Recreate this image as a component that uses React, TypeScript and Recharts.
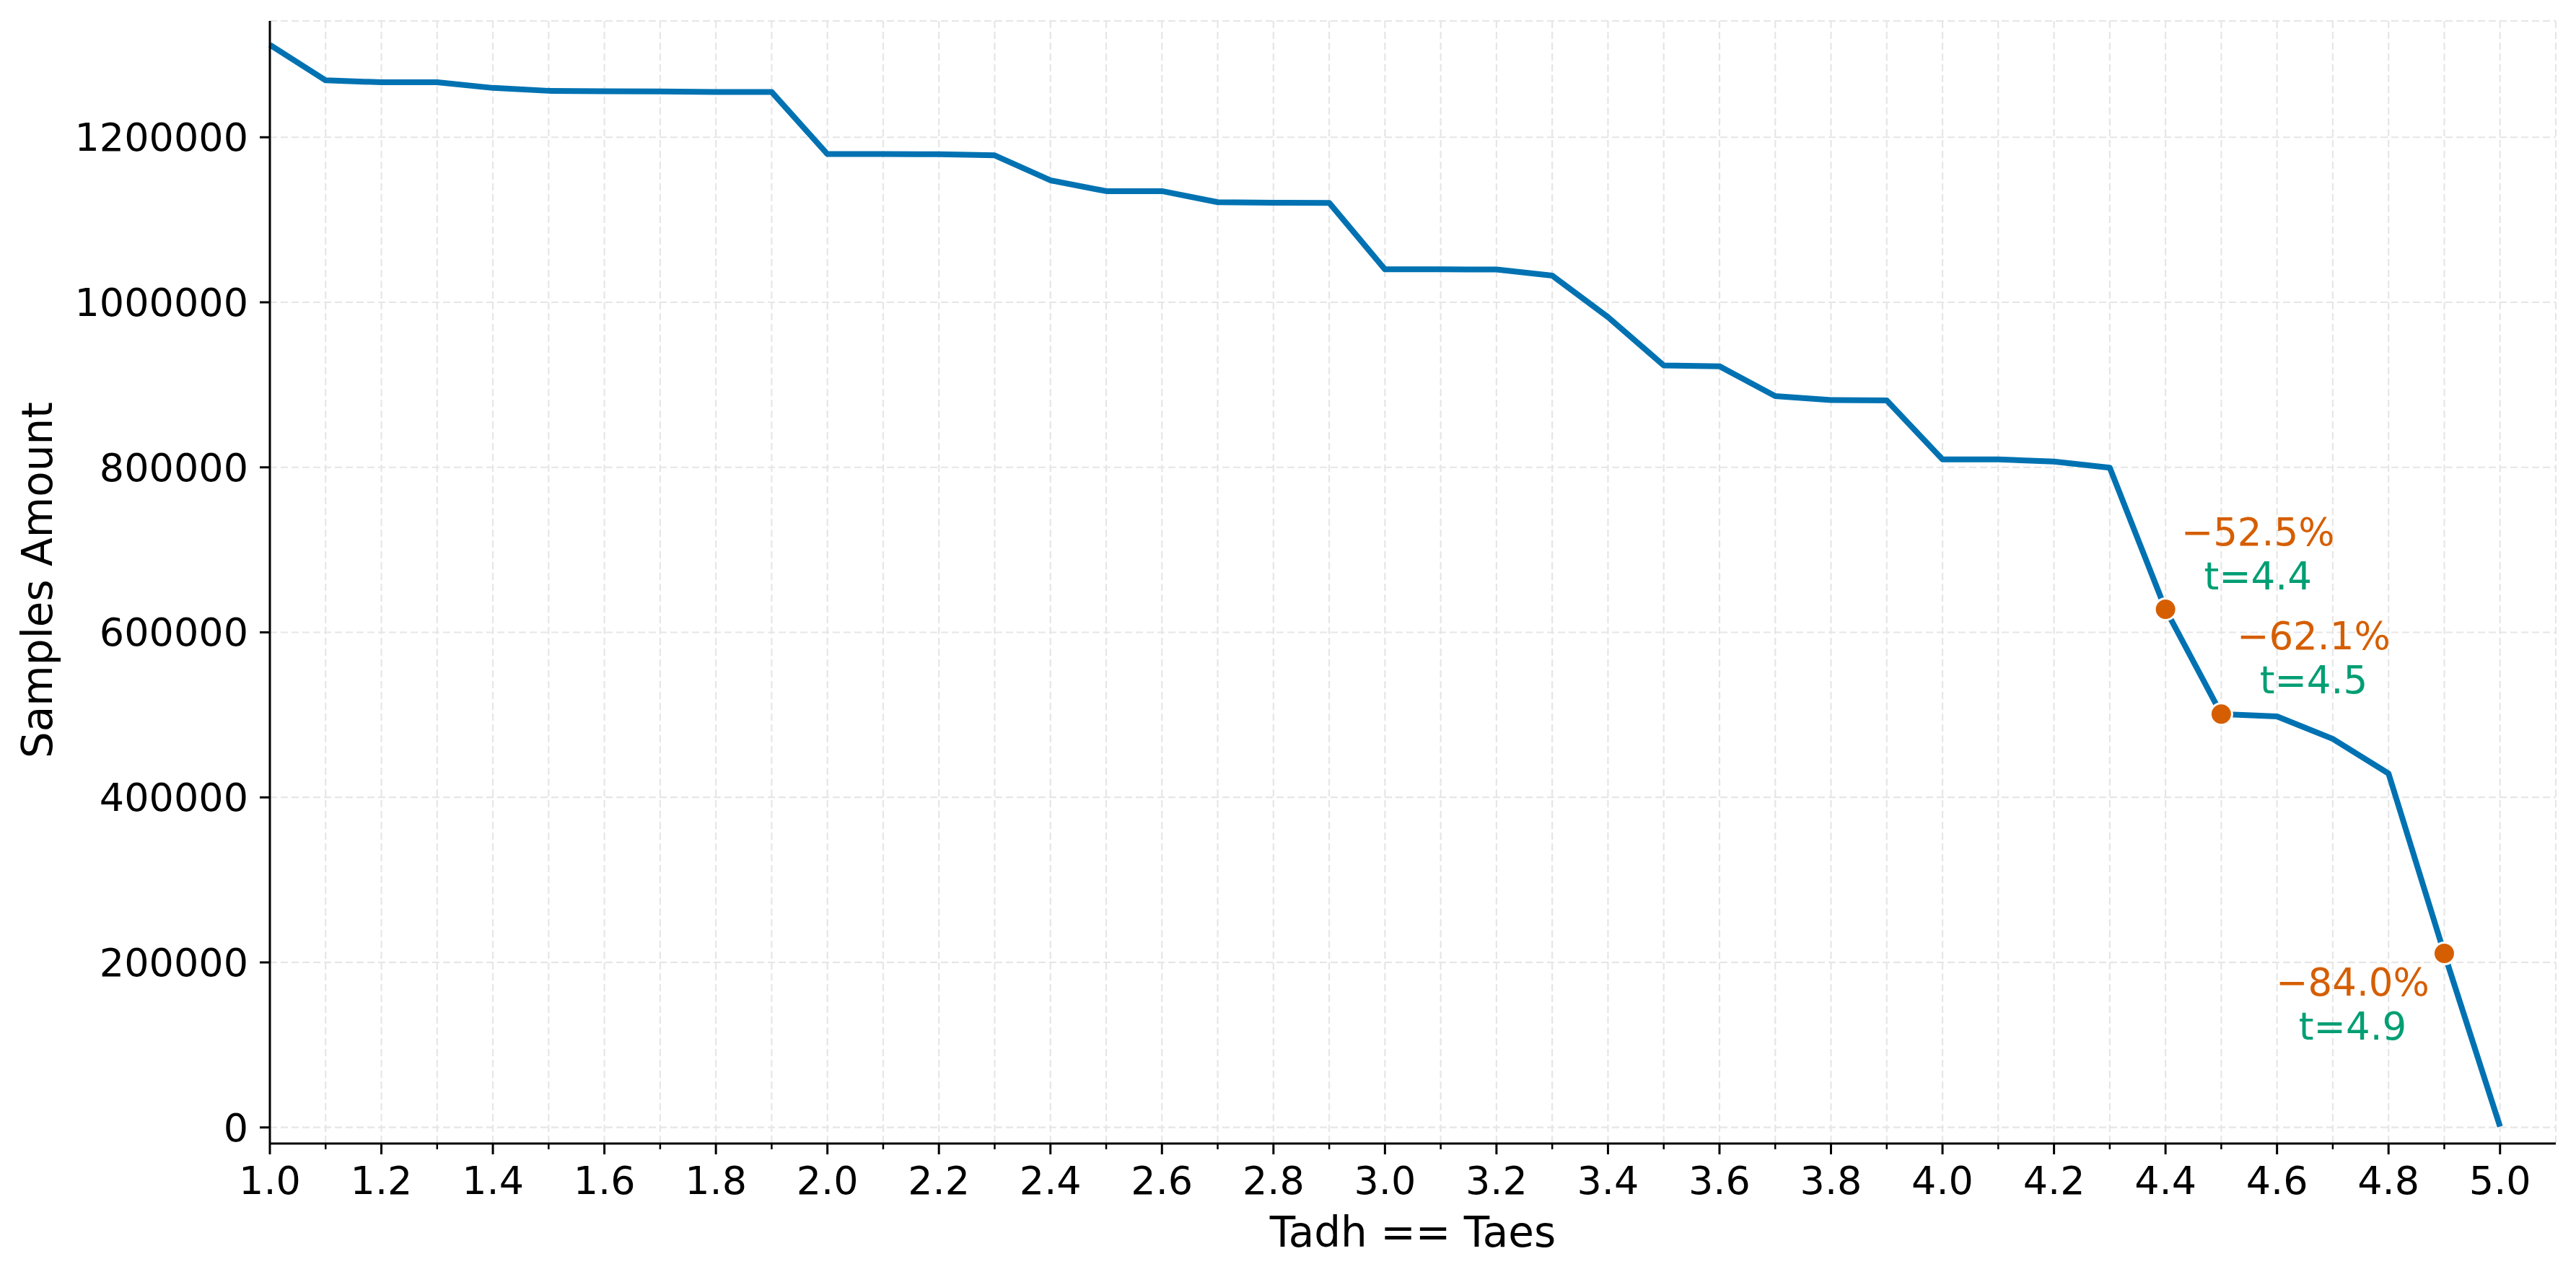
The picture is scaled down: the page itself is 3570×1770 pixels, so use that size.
import React from 'react';
import { LineChart, Line, XAxis, YAxis, CartesianGrid } from 'recharts';

// ---- data ----
const thresholds = [
  1.0, 1.1, 1.2, 1.3, 1.4, 1.5, 1.6, 1.7, 1.8, 1.9,
  2.0, 2.1, 2.2, 2.3, 2.4, 2.5, 2.6, 2.7, 2.8, 2.9,
  3.0, 3.1, 3.2, 3.3, 3.4, 3.5, 3.6, 3.7, 3.8, 3.9,
  4.0, 4.1, 4.2, 4.3, 4.4, 4.5, 4.6, 4.7, 4.8, 4.9, 5.0,
];
const samples = [
  1312000, 1269000, 1266600, 1266600, 1259800, 1256300, 1255800, 1255500, 1254900, 1254900,
  1179600, 1179600, 1179400, 1178100, 1147800, 1134700, 1134700, 1121300, 1120700, 1120500,
  1039900, 1039900, 1039800, 1032400, 982100, 923500, 922500, 886300, 881600, 881000,
  809600, 809600, 807000, 799500, 628000, 501000, 498100, 470900, 428900, 210900, 1000,
];
const highlightT = [4.4, 4.5, 4.9];
const highlightDrop = ['\u221252.5%', '\u221262.1%', '\u221284.0%'];
const highlightLabel = ['t=4.4', 't=4.5', 't=4.9'];

const xMajorTicks = [1.0, 1.2, 1.4, 1.6, 1.8, 2.0, 2.2, 2.4, 2.6, 2.8, 3.0, 3.2, 3.4, 3.6, 3.8, 4.0, 4.2, 4.4, 4.6, 4.8, 5.0];
const yTicks = [0, 200000, 400000, 600000, 800000, 1000000, 1200000];

// ---- styles ----
const FONT = 'DejaVu Sans, sans-serif';
const LINE_COLOR = '#0072B2';
const DOT_COLOR = '#D55E00';
const TEXT_GREEN = '#009E73';
const GRID_COLOR = '#e6e6e6';
// annotation offsets (dx, dy of first line baseline) per highlight
const annotOffsets = [
  { dx: 128, dy: -88 },
  { dx: 128, dy: -90 },
  { dx: -127, dy: 59 },
];
const LINE_GAP = 61;

const data = thresholds.map((t, i) => {
  const h = highlightT.findIndex((v) => Math.abs(v - t) < 1e-9);
  return {
    t,
    samples: samples[i],
    hi: h,
  };
});

const XTick = (props: any) => {
  const { x, y, payload } = props;
  const v = payload.value;
  const major = xMajorTicks.some((m) => Math.abs(m - v) < 1e-9);
  return (
    <g>
      <line x1={x} x2={x} y1={y} y2={y + (major ? 15 : 8)} stroke="#000" strokeWidth={major ? 3 : 2.5} />
      {major && (
        <text x={x} y={y + 70} textAnchor="middle" fontSize={54} fontFamily={FONT} fill="#000">
          {v.toFixed(1)}
        </text>
      )}
    </g>
  );
};

const YTick = (props: any) => {
  const { x, y, payload } = props;
  return (
    <text x={x} y={y + 19} textAnchor="end" fontSize={54} fontFamily={FONT} fill="#000">
      {String(payload.value)}
    </text>
  );
};

const renderDot = (props: any) => {
  const { cx, cy, payload, index } = props;
  const h = payload.hi;
  if (h < 0 || h === undefined) return <g key={`d${index}`} />;
  const off = annotOffsets[h];
  return (
    <g key={`d${index}`}>
      <circle cx={cx} cy={cy} r={15} fill={DOT_COLOR} stroke="#fff" strokeWidth={3} />
      <text x={cx + off.dx} y={cy + off.dy} textAnchor="middle" fontSize={53} fontFamily={FONT} fill={DOT_COLOR}>
        {highlightDrop[h]}
      </text>
      <text x={cx + off.dx} y={cy + off.dy + LINE_GAP} textAnchor="middle" fontSize={53} fontFamily={FONT} fill={TEXT_GREEN}>
        {highlightLabel[h]}
      </text>
    </g>
  );
};

const YLabel = (props: any) => {
  const vb = props.viewBox || { x: 0, y: 29, width: 374, height: 1556 };
  const cx = vb.x + 72;
  const cy = vb.y + vb.height / 2 - 3;
  return (
    <text x={cx} y={cy} transform={`rotate(-90, ${cx}, ${cy})`} textAnchor="middle" fontSize={58} fontFamily={FONT} fill="#000">
      Samples Amount
    </text>
  );
};

const XLabel = (props: any) => {
  const vb = props.viewBox || { x: 374, y: 1585, width: 3168, height: 185 };
  return (
    <text x={vb.x + vb.width / 2} y={vb.y + 143} textAnchor="middle" fontSize={58} fontFamily={FONT} fill="#000">
      Tadh == Taes
    </text>
  );
};

export default function App() {
  return (
    <div style={{ position: 'absolute', left: 0, top: 0, width: 3570, height: 1770, background: '#fff' }}>
      <LineChart
        width={3570}
        height={1770}
        data={data}
        margin={{ top: 29, right: 28, left: 0, bottom: 0 }}
        style={{ fontFamily: FONT }}
      >
        <CartesianGrid stroke={GRID_COLOR} strokeWidth={2.2} strokeDasharray="10 5" />
        <XAxis
          dataKey="t"
          type="number"
          domain={[1.0, 5.1]}
          ticks={thresholds}
          interval={0}
          height={185}
          tickSize={0}
          tickMargin={0}
          tickLine={false}
          axisLine={{ stroke: '#000', strokeWidth: 3 }}
          tick={<XTick />}
          label={<XLabel />}
        />
        <YAxis
          type="number"
          domain={[-19500, 1341000]}
          ticks={yTicks}
          interval={0}
          width={374}
          tickSize={14}
          tickMargin={16}
          tickLine={{ stroke: '#000', strokeWidth: 3 }}
          axisLine={{ stroke: '#000', strokeWidth: 3 }}
          tick={<YTick />}
          label={<YLabel />}
        />
        <Line
          type="linear"
          dataKey="samples"
          stroke={LINE_COLOR}
          strokeWidth={8}
          strokeLinejoin="round"
          dot={renderDot}
          activeDot={false}
          isAnimationActive={false}
        />
      </LineChart>
    </div>
  );
}
